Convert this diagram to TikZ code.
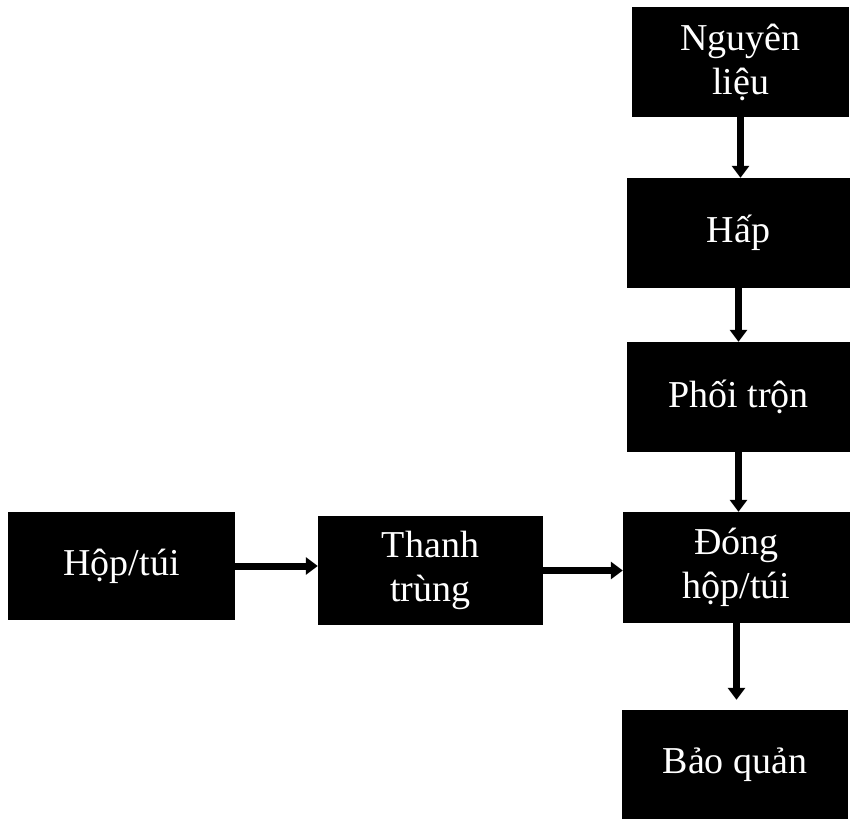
\documentclass[tikz,border=0pt]{standalone}
\usepackage{fontspec}
\setmainfont{Liberation Serif}
\usetikzlibrary{arrows.meta,calc}
\tikzset{
  stepbox/.style={rectangle, fill=black, draw=none, text=white, align=center,
    inner sep=0pt, font=\fontsize{38}{44}\selectfont},
  arr/.style={line width=7pt, -{Triangle[width=17pt,length=12pt]}}
}
\begin{document}
\begin{tikzpicture}[x=1pt,y=-1pt]
\fill[white] (0,0) rectangle (852,819);
\useasboundingbox (0,0) rectangle (852,819);
\node[stepbox, minimum width=217pt, minimum height=110pt] (nl) at (740.5,62) {Nguyên\\liệu};
\node[stepbox, minimum width=223pt, minimum height=110pt] (hap) at (738.5,233) {Hấp};
\node[stepbox, minimum width=223pt, minimum height=110pt] (phoi) at (738.5,397) {Phối trộn};
\node[stepbox, minimum width=227pt, minimum height=111pt] (dong) at (736.5,567.5) {Đóng\\hộp/túi};
\node[stepbox, minimum width=226pt, minimum height=109pt] (bao) at (735,764.5) {Bảo quản};
\node[stepbox, minimum width=227pt, minimum height=108pt] (hop) at (121.5,566) {Hộp/túi};
\node[stepbox, minimum width=225pt, minimum height=109pt] (thanh) at (430.5,570.5) {Thanh\\trùng};
\draw[arr] (nl.south) -- (nl.south |- hap.north);
\draw[arr] (hap.south) -- (hap.south |- phoi.north);
\draw[arr] (phoi.south) -- (phoi.south |- dong.north);
\draw[arr] (dong.south) -- ($(dong.south |- bao.north)+(0,-10)$);
\draw[arr] (hop.east) -- (hop.east -| thanh.west);
\draw[arr] (thanh.east) -- (thanh.east -| dong.west);
\end{tikzpicture}
\end{document}
